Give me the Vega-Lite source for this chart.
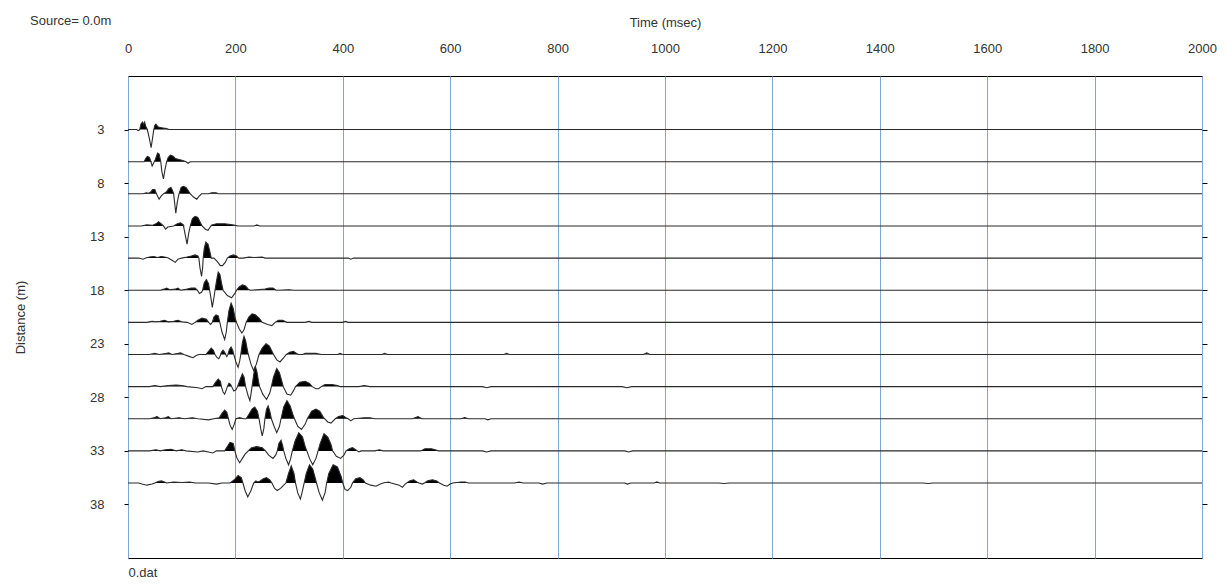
{
"$schema":"https://vega.github.io/schema/vega-lite/v6.json",
"width":1074,"height":482,
"autosize":{"type":"none"},
"padding":{"left":128,"top":76,"right":25,"bottom":28},
"background":"white",
"config":{"font":"Liberation Sans","view":{"stroke":"#000","strokeWidth":1},"axis":{"labelFont":"Liberation Sans","titleFont":"Liberation Sans","labelColor":"#333","titleColor":"#333","labelFontSize":13,"titleFontSize":13,"titleFontWeight":"normal","tickColor":"#000"}},
"title":{"text":"Source=  0.0m","anchor":"start","frame":"group","dx":-98,"dy":16,"fontSize":13,"fontWeight":"normal","color":"#333","font":"Liberation Sans"},
"data":{"values":[
{"d":3,"t":0,"y":3},{"d":3,"t":16,"y":3},{"d":3,"t":19,"y":3.1},{"d":3,"t":22,"y":3},{"d":3,"t":24,"y":2.5},{"d":3,"t":27,"y":2.3},{"d":3,"t":29,"y":2.5},{"d":3,"t":31,"y":2.3},{"d":3,"t":33,"y":2.7},{"d":3,"t":36,"y":3},{"d":3,"t":40,"y":3.9},{"d":3,"t":43,"y":4.7},{"d":3,"t":46,"y":3.7},{"d":3,"t":48,"y":3},{"d":3,"t":50,"y":2.6},{"d":3,"t":52,"y":2.5},{"d":3,"t":55,"y":2.7},{"d":3,"t":58,"y":2.8},{"d":3,"t":65,"y":2.85},{"d":3,"t":72,"y":2.9},{"d":3,"t":76,"y":3},{"d":3,"t":2000,"y":3},
{"d":6,"t":0,"y":6},{"d":6,"t":30,"y":6},{"d":6,"t":33,"y":5.7},{"d":6,"t":36,"y":5.5},{"d":6,"t":40,"y":5.6},{"d":6,"t":42,"y":5.9},{"d":6,"t":45,"y":6.4},{"d":6,"t":48,"y":6.1},{"d":6,"t":51,"y":5.8},{"d":6,"t":55,"y":5.2},{"d":6,"t":58,"y":5.3},{"d":6,"t":61,"y":6},{"d":6,"t":63,"y":6.9},{"d":6,"t":66,"y":7.6},{"d":6,"t":69,"y":6.7},{"d":6,"t":72,"y":6},{"d":6,"t":75,"y":5.6},{"d":6,"t":79,"y":5.4},{"d":6,"t":84,"y":5.5},{"d":6,"t":88,"y":5.7},{"d":6,"t":95,"y":5.8},{"d":6,"t":102,"y":5.9},{"d":6,"t":108,"y":6},{"d":6,"t":112,"y":6.15},{"d":6,"t":116,"y":6},{"d":6,"t":2000,"y":6},
{"d":9,"t":0,"y":9},{"d":9,"t":28,"y":9},{"d":9,"t":34,"y":8.9},{"d":9,"t":38,"y":8.95},{"d":9,"t":42,"y":8.85},{"d":9,"t":46,"y":8.6},{"d":9,"t":50,"y":8.6},{"d":9,"t":53,"y":9},{"d":9,"t":58,"y":9.5},{"d":9,"t":62,"y":9.2},{"d":9,"t":66,"y":9},{"d":9,"t":72,"y":8.8},{"d":9,"t":76,"y":8.5},{"d":9,"t":80,"y":8.4},{"d":9,"t":83,"y":8.7},{"d":9,"t":85,"y":9},{"d":9,"t":87,"y":9.9},{"d":9,"t":89,"y":10.8},{"d":9,"t":92,"y":9.7},{"d":9,"t":95,"y":9},{"d":9,"t":99,"y":8.4},{"d":9,"t":103,"y":8.3},{"d":9,"t":108,"y":8.4},{"d":9,"t":112,"y":8.7},{"d":9,"t":116,"y":9},{"d":9,"t":122,"y":9.3},{"d":9,"t":128,"y":9.5},{"d":9,"t":133,"y":9.2},{"d":9,"t":137,"y":9},{"d":9,"t":150,"y":9},{"d":9,"t":156,"y":8.9},{"d":9,"t":164,"y":8.9},{"d":9,"t":168,"y":9},{"d":9,"t":2000,"y":9},
{"d":12,"t":0,"y":12},{"d":12,"t":25,"y":12},{"d":12,"t":35,"y":11.9},{"d":12,"t":45,"y":11.95},{"d":12,"t":52,"y":11.8},{"d":12,"t":57,"y":11.6},{"d":12,"t":62,"y":11.8},{"d":12,"t":66,"y":12},{"d":12,"t":70,"y":12.3},{"d":12,"t":74,"y":12.1},{"d":12,"t":85,"y":12},{"d":12,"t":92,"y":11.8},{"d":12,"t":98,"y":11.7},{"d":12,"t":103,"y":11.9},{"d":12,"t":106,"y":12.7},{"d":12,"t":110,"y":13.7},{"d":12,"t":113,"y":12.7},{"d":12,"t":116,"y":12},{"d":12,"t":120,"y":11.3},{"d":12,"t":125,"y":11.1},{"d":12,"t":130,"y":11.2},{"d":12,"t":134,"y":11.6},{"d":12,"t":138,"y":12},{"d":12,"t":144,"y":12.3},{"d":12,"t":149,"y":12.4},{"d":12,"t":153,"y":12.1},{"d":12,"t":156,"y":11.9},{"d":12,"t":165,"y":11.8},{"d":12,"t":180,"y":11.8},{"d":12,"t":195,"y":11.9},{"d":12,"t":205,"y":12},{"d":12,"t":235,"y":12},{"d":12,"t":240,"y":11.9},{"d":12,"t":245,"y":12},{"d":12,"t":2000,"y":12},
{"d":15,"t":0,"y":15},{"d":15,"t":20,"y":15},{"d":15,"t":28,"y":15.1},{"d":15,"t":33,"y":15},{"d":15,"t":40,"y":14.9},{"d":15,"t":48,"y":14.85},{"d":15,"t":55,"y":14.95},{"d":15,"t":62,"y":14.85},{"d":15,"t":68,"y":14.9},{"d":15,"t":75,"y":15},{"d":15,"t":82,"y":15.2},{"d":15,"t":88,"y":15.4},{"d":15,"t":93,"y":15.1},{"d":15,"t":100,"y":15},{"d":15,"t":110,"y":14.9},{"d":15,"t":118,"y":14.8},{"d":15,"t":125,"y":14.7},{"d":15,"t":130,"y":14.8},{"d":15,"t":132,"y":15},{"d":15,"t":134,"y":15.9},{"d":15,"t":137,"y":16.7},{"d":15,"t":139,"y":15.9},{"d":15,"t":140,"y":15},{"d":15,"t":142,"y":14.1},{"d":15,"t":145,"y":13.5},{"d":15,"t":149,"y":13.7},{"d":15,"t":152,"y":14.3},{"d":15,"t":155,"y":15},{"d":15,"t":160,"y":15},{"d":15,"t":166,"y":15.3},{"d":15,"t":172,"y":15.7},{"d":15,"t":176,"y":15.7},{"d":15,"t":181,"y":15.4},{"d":15,"t":185,"y":15},{"d":15,"t":190,"y":14.8},{"d":15,"t":196,"y":14.7},{"d":15,"t":202,"y":14.8},{"d":15,"t":206,"y":15},{"d":15,"t":215,"y":15},{"d":15,"t":225,"y":14.9},{"d":15,"t":235,"y":14.95},{"d":15,"t":250,"y":14.9},{"d":15,"t":255,"y":15},{"d":15,"t":410,"y":15},{"d":15,"t":415,"y":15.1},{"d":15,"t":420,"y":15},{"d":15,"t":2000,"y":15},
{"d":18,"t":0,"y":18},{"d":18,"t":60,"y":18},{"d":18,"t":67,"y":17.9},{"d":18,"t":72,"y":17.8},{"d":18,"t":78,"y":17.95},{"d":18,"t":88,"y":17.9},{"d":18,"t":93,"y":17.8},{"d":18,"t":98,"y":18},{"d":18,"t":110,"y":17.9},{"d":18,"t":118,"y":17.8},{"d":18,"t":125,"y":17.8},{"d":18,"t":129,"y":18},{"d":18,"t":133,"y":18.3},{"d":18,"t":137,"y":18.2},{"d":18,"t":139,"y":18},{"d":18,"t":142,"y":17.3},{"d":18,"t":146,"y":17},{"d":18,"t":150,"y":17.4},{"d":18,"t":152,"y":18},{"d":18,"t":155,"y":18.9},{"d":18,"t":157,"y":19.6},{"d":18,"t":160,"y":18.7},{"d":18,"t":162,"y":18},{"d":18,"t":165,"y":17.1},{"d":18,"t":168,"y":16.3},{"d":18,"t":171,"y":16.5},{"d":18,"t":174,"y":17.3},{"d":18,"t":177,"y":18},{"d":18,"t":185,"y":18.5},{"d":18,"t":193,"y":18.7},{"d":18,"t":199,"y":18.3},{"d":18,"t":202,"y":18},{"d":18,"t":207,"y":17.7},{"d":18,"t":213,"y":17.5},{"d":18,"t":219,"y":17.6},{"d":18,"t":224,"y":17.9},{"d":18,"t":228,"y":18},{"d":18,"t":255,"y":17.9},{"d":18,"t":263,"y":17.8},{"d":18,"t":270,"y":17.8},{"d":18,"t":276,"y":18},{"d":18,"t":300,"y":17.95},{"d":18,"t":310,"y":18},{"d":18,"t":2000,"y":18},
{"d":21,"t":0,"y":21},{"d":21,"t":35,"y":21},{"d":21,"t":45,"y":20.9},{"d":21,"t":52,"y":20.95},{"d":21,"t":60,"y":20.9},{"d":21,"t":68,"y":20.8},{"d":21,"t":75,"y":20.95},{"d":21,"t":85,"y":20.9},{"d":21,"t":93,"y":20.8},{"d":21,"t":100,"y":20.95},{"d":21,"t":110,"y":21},{"d":21,"t":119,"y":21.2},{"d":21,"t":125,"y":21},{"d":21,"t":130,"y":20.8},{"d":21,"t":138,"y":20.6},{"d":21,"t":146,"y":20.7},{"d":21,"t":150,"y":21},{"d":21,"t":154,"y":21.2},{"d":21,"t":157,"y":21},{"d":21,"t":160,"y":20.5},{"d":21,"t":164,"y":20.3},{"d":21,"t":168,"y":20.4},{"d":21,"t":171,"y":21},{"d":21,"t":175,"y":21.9},{"d":21,"t":180,"y":22.6},{"d":21,"t":183,"y":21.9},{"d":21,"t":185,"y":21},{"d":21,"t":188,"y":19.9},{"d":21,"t":192,"y":19.2},{"d":21,"t":196,"y":19.7},{"d":21,"t":199,"y":20.5},{"d":21,"t":202,"y":21},{"d":21,"t":207,"y":21.6},{"d":21,"t":212,"y":22},{"d":21,"t":216,"y":21.7},{"d":21,"t":220,"y":21},{"d":21,"t":225,"y":20.5},{"d":21,"t":231,"y":20.2},{"d":21,"t":237,"y":20.3},{"d":21,"t":244,"y":20.6},{"d":21,"t":250,"y":21},{"d":21,"t":260,"y":21.2},{"d":21,"t":268,"y":21.3},{"d":21,"t":274,"y":21},{"d":21,"t":280,"y":20.8},{"d":21,"t":288,"y":20.8},{"d":21,"t":296,"y":21},{"d":21,"t":330,"y":21},{"d":21,"t":337,"y":20.9},{"d":21,"t":342,"y":21},{"d":21,"t":400,"y":21},{"d":21,"t":405,"y":20.9},{"d":21,"t":410,"y":21},{"d":21,"t":2000,"y":21},
{"d":24,"t":0,"y":24},{"d":24,"t":40,"y":24},{"d":24,"t":50,"y":23.9},{"d":24,"t":58,"y":24},{"d":24,"t":70,"y":23.9},{"d":24,"t":76,"y":23.85},{"d":24,"t":82,"y":24},{"d":24,"t":92,"y":23.9},{"d":24,"t":98,"y":23.85},{"d":24,"t":104,"y":24},{"d":24,"t":115,"y":24.2},{"d":24,"t":121,"y":24.3},{"d":24,"t":127,"y":24.1},{"d":24,"t":132,"y":24},{"d":24,"t":145,"y":24},{"d":24,"t":150,"y":23.7},{"d":24,"t":155,"y":23.4},{"d":24,"t":159,"y":23.6},{"d":24,"t":162,"y":24},{"d":24,"t":166,"y":24.3},{"d":24,"t":169,"y":24.4},{"d":24,"t":172,"y":24.1},{"d":24,"t":174,"y":23.8},{"d":24,"t":177,"y":23.6},{"d":24,"t":180,"y":23.8},{"d":24,"t":182,"y":24},{"d":24,"t":184,"y":24.2},{"d":24,"t":186,"y":24},{"d":24,"t":189,"y":23.5},{"d":24,"t":192,"y":23.3},{"d":24,"t":195,"y":23.6},{"d":24,"t":197,"y":24},{"d":24,"t":201,"y":24.7},{"d":24,"t":205,"y":25.2},{"d":24,"t":208,"y":24.6},{"d":24,"t":210,"y":24},{"d":24,"t":213,"y":22.9},{"d":24,"t":216,"y":22.3},{"d":24,"t":219,"y":22.7},{"d":24,"t":222,"y":23.5},{"d":24,"t":224,"y":24},{"d":24,"t":229,"y":24.9},{"d":24,"t":234,"y":25.5},{"d":24,"t":239,"y":24.9},{"d":24,"t":244,"y":24},{"d":24,"t":250,"y":23.4},{"d":24,"t":257,"y":23},{"d":24,"t":263,"y":23.2},{"d":24,"t":268,"y":23.7},{"d":24,"t":271,"y":24},{"d":24,"t":277,"y":24.5},{"d":24,"t":283,"y":24.7},{"d":24,"t":290,"y":24.3},{"d":24,"t":295,"y":24},{"d":24,"t":301,"y":23.8},{"d":24,"t":308,"y":23.7},{"d":24,"t":314,"y":23.9},{"d":24,"t":317,"y":24},{"d":24,"t":325,"y":24},{"d":24,"t":330,"y":23.9},{"d":24,"t":340,"y":23.9},{"d":24,"t":350,"y":23.9},{"d":24,"t":360,"y":24},{"d":24,"t":390,"y":24},{"d":24,"t":395,"y":23.9},{"d":24,"t":400,"y":24},{"d":24,"t":473,"y":24},{"d":24,"t":478,"y":23.9},{"d":24,"t":483,"y":24},{"d":24,"t":700,"y":24},{"d":24,"t":705,"y":23.9},{"d":24,"t":710,"y":24},{"d":24,"t":960,"y":24},{"d":24,"t":966,"y":23.85},{"d":24,"t":972,"y":24},{"d":24,"t":2000,"y":24},
{"d":27,"t":0,"y":27},{"d":27,"t":40,"y":27},{"d":27,"t":50,"y":26.9},{"d":27,"t":60,"y":27},{"d":27,"t":75,"y":26.9},{"d":27,"t":90,"y":26.85},{"d":27,"t":100,"y":26.9},{"d":27,"t":110,"y":27},{"d":27,"t":130,"y":27.1},{"d":27,"t":138,"y":27.2},{"d":27,"t":145,"y":27},{"d":27,"t":158,"y":27},{"d":27,"t":163,"y":26.6},{"d":27,"t":168,"y":26.3},{"d":27,"t":172,"y":26.5},{"d":27,"t":174,"y":27},{"d":27,"t":177,"y":27.5},{"d":27,"t":180,"y":27.7},{"d":27,"t":183,"y":27.3},{"d":27,"t":185,"y":27},{"d":27,"t":188,"y":26.7},{"d":27,"t":191,"y":26.8},{"d":27,"t":193,"y":27},{"d":27,"t":197,"y":27.4},{"d":27,"t":201,"y":27.3},{"d":27,"t":204,"y":27},{"d":27,"t":209,"y":26.3},{"d":27,"t":213,"y":25.8},{"d":27,"t":216,"y":26.1},{"d":27,"t":219,"y":27},{"d":27,"t":224,"y":27.9},{"d":27,"t":227,"y":28.3},{"d":27,"t":229,"y":27.7},{"d":27,"t":231,"y":27},{"d":27,"t":234,"y":25.9},{"d":27,"t":237,"y":25.1},{"d":27,"t":240,"y":25.6},{"d":27,"t":243,"y":26.5},{"d":27,"t":245,"y":27},{"d":27,"t":251,"y":27.7},{"d":27,"t":258,"y":28.2},{"d":27,"t":264,"y":27.6},{"d":27,"t":267,"y":27},{"d":27,"t":271,"y":26.1},{"d":27,"t":277,"y":25.3},{"d":27,"t":282,"y":25.7},{"d":27,"t":287,"y":26.6},{"d":27,"t":289,"y":27},{"d":27,"t":296,"y":27.7},{"d":27,"t":303,"y":27.8},{"d":27,"t":308,"y":27.4},{"d":27,"t":312,"y":27},{"d":27,"t":320,"y":26.6},{"d":27,"t":330,"y":26.5},{"d":27,"t":338,"y":26.7},{"d":27,"t":343,"y":27},{"d":27,"t":350,"y":27.2},{"d":27,"t":355,"y":27.2},{"d":27,"t":360,"y":27},{"d":27,"t":367,"y":26.8},{"d":27,"t":380,"y":26.8},{"d":27,"t":390,"y":26.9},{"d":27,"t":395,"y":27},{"d":27,"t":430,"y":27},{"d":27,"t":440,"y":26.9},{"d":27,"t":450,"y":27},{"d":27,"t":660,"y":27},{"d":27,"t":668,"y":27.1},{"d":27,"t":676,"y":27},{"d":27,"t":920,"y":27},{"d":27,"t":929,"y":27.1},{"d":27,"t":938,"y":27},{"d":27,"t":2000,"y":27},
{"d":30,"t":0,"y":30},{"d":30,"t":40,"y":30},{"d":30,"t":48,"y":29.9},{"d":30,"t":54,"y":29.8},{"d":30,"t":60,"y":30},{"d":30,"t":70,"y":29.9},{"d":30,"t":75,"y":29.8},{"d":30,"t":80,"y":30},{"d":30,"t":95,"y":29.9},{"d":30,"t":105,"y":30},{"d":30,"t":120,"y":29.9},{"d":30,"t":130,"y":30},{"d":30,"t":150,"y":30.1},{"d":30,"t":160,"y":30},{"d":30,"t":170,"y":29.9},{"d":30,"t":175,"y":29.5},{"d":30,"t":180,"y":29.2},{"d":30,"t":184,"y":29.4},{"d":30,"t":187,"y":30},{"d":30,"t":190,"y":30.6},{"d":30,"t":194,"y":31},{"d":30,"t":198,"y":30.5},{"d":30,"t":201,"y":30},{"d":30,"t":208,"y":29.9},{"d":30,"t":215,"y":30},{"d":30,"t":220,"y":30},{"d":30,"t":225,"y":29.6},{"d":30,"t":231,"y":29.1},{"d":30,"t":236,"y":28.9},{"d":30,"t":241,"y":29.3},{"d":30,"t":244,"y":30},{"d":30,"t":247,"y":30.9},{"d":30,"t":250,"y":31.6},{"d":30,"t":253,"y":30.9},{"d":30,"t":255,"y":30},{"d":30,"t":258,"y":29.1},{"d":30,"t":261,"y":28.8},{"d":30,"t":264,"y":29.3},{"d":30,"t":267,"y":30},{"d":30,"t":272,"y":30.7},{"d":30,"t":277,"y":31.3},{"d":30,"t":282,"y":30.7},{"d":30,"t":285,"y":30},{"d":30,"t":290,"y":28.9},{"d":30,"t":296,"y":28.3},{"d":30,"t":302,"y":28.8},{"d":30,"t":307,"y":29.6},{"d":30,"t":310,"y":30},{"d":30,"t":316,"y":30.7},{"d":30,"t":323,"y":31},{"d":30,"t":330,"y":30.5},{"d":30,"t":334,"y":30},{"d":30,"t":342,"y":29.3},{"d":30,"t":350,"y":29.1},{"d":30,"t":357,"y":29.3},{"d":30,"t":363,"y":29.8},{"d":30,"t":366,"y":30},{"d":30,"t":372,"y":30.3},{"d":30,"t":378,"y":30.4},{"d":30,"t":384,"y":30.1},{"d":30,"t":386,"y":30},{"d":30,"t":392,"y":29.8},{"d":30,"t":400,"y":29.7},{"d":30,"t":406,"y":29.9},{"d":30,"t":410,"y":30},{"d":30,"t":415,"y":30.2},{"d":30,"t":420,"y":30},{"d":30,"t":440,"y":29.9},{"d":30,"t":450,"y":29.9},{"d":30,"t":460,"y":30},{"d":30,"t":530,"y":30},{"d":30,"t":540,"y":29.8},{"d":30,"t":547,"y":30},{"d":30,"t":620,"y":30},{"d":30,"t":627,"y":29.9},{"d":30,"t":634,"y":30},{"d":30,"t":665,"y":30},{"d":30,"t":670,"y":30.1},{"d":30,"t":676,"y":30},{"d":30,"t":2000,"y":30},
{"d":33,"t":0,"y":33},{"d":33,"t":40,"y":33},{"d":33,"t":52,"y":32.9},{"d":33,"t":60,"y":33},{"d":33,"t":70,"y":32.9},{"d":33,"t":80,"y":32.85},{"d":33,"t":90,"y":33},{"d":33,"t":100,"y":32.9},{"d":33,"t":108,"y":33},{"d":33,"t":130,"y":33.1},{"d":33,"t":140,"y":33},{"d":33,"t":150,"y":33.1},{"d":33,"t":158,"y":33.2},{"d":33,"t":165,"y":33},{"d":33,"t":180,"y":33},{"d":33,"t":185,"y":32.6},{"d":33,"t":190,"y":32.2},{"d":33,"t":196,"y":32.3},{"d":33,"t":199,"y":33},{"d":33,"t":203,"y":33.7},{"d":33,"t":208,"y":34.1},{"d":33,"t":213,"y":33.7},{"d":33,"t":218,"y":33.3},{"d":33,"t":224,"y":33},{"d":33,"t":230,"y":32.7},{"d":33,"t":240,"y":32.6},{"d":33,"t":250,"y":32.7},{"d":33,"t":256,"y":33},{"d":33,"t":262,"y":33.4},{"d":33,"t":270,"y":33.7},{"d":33,"t":275,"y":33.4},{"d":33,"t":278,"y":33},{"d":33,"t":281,"y":32.3},{"d":33,"t":285,"y":32},{"d":33,"t":288,"y":32.5},{"d":33,"t":290,"y":33},{"d":33,"t":294,"y":33.7},{"d":33,"t":299,"y":34.3},{"d":33,"t":303,"y":33.7},{"d":33,"t":306,"y":33},{"d":33,"t":311,"y":32.1},{"d":33,"t":318,"y":31.3},{"d":33,"t":325,"y":31.7},{"d":33,"t":330,"y":32.6},{"d":33,"t":333,"y":33},{"d":33,"t":338,"y":33.7},{"d":33,"t":344,"y":34.3},{"d":33,"t":350,"y":33.7},{"d":33,"t":354,"y":33},{"d":33,"t":358,"y":32.3},{"d":33,"t":365,"y":31.4},{"d":33,"t":372,"y":31.7},{"d":33,"t":378,"y":32.4},{"d":33,"t":381,"y":33},{"d":33,"t":388,"y":33.5},{"d":33,"t":396,"y":33.7},{"d":33,"t":402,"y":33.4},{"d":33,"t":406,"y":33},{"d":33,"t":412,"y":32.8},{"d":33,"t":418,"y":32.7},{"d":33,"t":424,"y":32.9},{"d":33,"t":427,"y":33},{"d":33,"t":430,"y":33.1},{"d":33,"t":434,"y":33},{"d":33,"t":460,"y":33},{"d":33,"t":468,"y":32.9},{"d":33,"t":475,"y":33},{"d":33,"t":545,"y":33},{"d":33,"t":553,"y":32.8},{"d":33,"t":565,"y":32.8},{"d":33,"t":572,"y":32.9},{"d":33,"t":578,"y":33},{"d":33,"t":660,"y":33},{"d":33,"t":668,"y":33.1},{"d":33,"t":676,"y":33},{"d":33,"t":925,"y":33},{"d":33,"t":932,"y":33.1},{"d":33,"t":940,"y":33},{"d":33,"t":2000,"y":33},
{"d":36,"t":0,"y":36},{"d":36,"t":20,"y":36},{"d":36,"t":26,"y":36.1},{"d":36,"t":35,"y":36.2},{"d":36,"t":45,"y":36.1},{"d":36,"t":50,"y":36},{"d":36,"t":56,"y":35.85},{"d":36,"t":62,"y":35.8},{"d":36,"t":68,"y":35.9},{"d":36,"t":72,"y":36},{"d":36,"t":85,"y":35.9},{"d":36,"t":100,"y":35.95},{"d":36,"t":115,"y":35.9},{"d":36,"t":125,"y":36},{"d":36,"t":150,"y":36},{"d":36,"t":165,"y":36.1},{"d":36,"t":175,"y":36},{"d":36,"t":190,"y":36},{"d":36,"t":198,"y":35.7},{"d":36,"t":205,"y":35.3},{"d":36,"t":211,"y":35.5},{"d":36,"t":214,"y":36},{"d":36,"t":218,"y":36.7},{"d":36,"t":223,"y":37.3},{"d":36,"t":229,"y":36.7},{"d":36,"t":234,"y":36},{"d":36,"t":238,"y":35.8},{"d":36,"t":242,"y":35.9},{"d":36,"t":246,"y":35.8},{"d":36,"t":252,"y":35.6},{"d":36,"t":258,"y":35.5},{"d":36,"t":264,"y":35.7},{"d":36,"t":268,"y":36},{"d":36,"t":273,"y":36.5},{"d":36,"t":278,"y":36.7},{"d":36,"t":284,"y":36.5},{"d":36,"t":290,"y":36.2},{"d":36,"t":294,"y":36},{"d":36,"t":299,"y":35.1},{"d":36,"t":304,"y":34.4},{"d":36,"t":309,"y":35.1},{"d":36,"t":312,"y":36},{"d":36,"t":316,"y":36.9},{"d":36,"t":321,"y":37.5},{"d":36,"t":325,"y":36.7},{"d":36,"t":328,"y":36},{"d":36,"t":332,"y":35.1},{"d":36,"t":338,"y":34.3},{"d":36,"t":344,"y":34.7},{"d":36,"t":349,"y":35.6},{"d":36,"t":351,"y":36},{"d":36,"t":356,"y":36.9},{"d":36,"t":362,"y":37.6},{"d":36,"t":367,"y":36.9},{"d":36,"t":370,"y":36},{"d":36,"t":374,"y":35.1},{"d":36,"t":382,"y":34.3},{"d":36,"t":390,"y":34.5},{"d":36,"t":397,"y":35.4},{"d":36,"t":400,"y":36},{"d":36,"t":404,"y":36.6},{"d":36,"t":409,"y":36.7},{"d":36,"t":415,"y":36.4},{"d":36,"t":418,"y":36},{"d":36,"t":424,"y":35.6},{"d":36,"t":432,"y":35.5},{"d":36,"t":438,"y":35.7},{"d":36,"t":442,"y":36},{"d":36,"t":452,"y":36.2},{"d":36,"t":462,"y":36.3},{"d":36,"t":470,"y":36.1},{"d":36,"t":475,"y":36},{"d":36,"t":485,"y":35.9},{"d":36,"t":490,"y":36},{"d":36,"t":505,"y":36.2},{"d":36,"t":511,"y":36.4},{"d":36,"t":516,"y":36.1},{"d":36,"t":519,"y":36},{"d":36,"t":525,"y":35.8},{"d":36,"t":532,"y":35.7},{"d":36,"t":538,"y":35.9},{"d":36,"t":542,"y":36},{"d":36,"t":548,"y":36.1},{"d":36,"t":552,"y":36},{"d":36,"t":558,"y":35.8},{"d":36,"t":567,"y":35.7},{"d":36,"t":575,"y":35.8},{"d":36,"t":580,"y":36},{"d":36,"t":588,"y":36.2},{"d":36,"t":594,"y":36.3},{"d":36,"t":600,"y":36.1},{"d":36,"t":605,"y":36},{"d":36,"t":620,"y":35.9},{"d":36,"t":628,"y":35.9},{"d":36,"t":634,"y":36},{"d":36,"t":720,"y":36},{"d":36,"t":728,"y":35.9},{"d":36,"t":736,"y":36},{"d":36,"t":765,"y":36},{"d":36,"t":772,"y":36.1},{"d":36,"t":780,"y":36},{"d":36,"t":925,"y":36},{"d":36,"t":930,"y":36.1},{"d":36,"t":936,"y":36},{"d":36,"t":980,"y":36},{"d":36,"t":985,"y":35.9},{"d":36,"t":990,"y":36},{"d":36,"t":1100,"y":36},{"d":36,"t":1110,"y":36.05},{"d":36,"t":1120,"y":36},{"d":36,"t":1480,"y":36},{"d":36,"t":1490,"y":36.05},{"d":36,"t":1500,"y":36},{"d":36,"t":2000,"y":36}
]},
"layer":[
{"transform":[{"fold":["y","d"],"as":["k","v"]},{"aggregate":[{"op":"min","field":"v","as":"f"}],"groupby":["d","t"]}],
 "mark":{"type":"area","color":"#000","interpolate":"linear"},
 "encoding":{
  "x":{"field":"t","type":"quantitative","scale":{"domain":[0,2000],"nice":false,"zero":false},"axis":{"orient":"bottom","labels":false,"ticks":false,"domain":false,"grid":false,"title":"0.dat","titleAnchor":"start","titleAlign":"left","titleFontSize":13,"titlePadding":8}},
  "y":{"field":"f","type":"quantitative","scale":{"domain":[-2,43],"nice":false,"zero":false,"reverse":true},"axis":{"orient":"right","values":[3,8,13,18,23,28,33,38],"labels":false,"ticks":true,"tickSize":5,"domain":false,"grid":false,"title":null}},
  "y2":{"field":"d"},
  "detail":{"field":"d","type":"nominal"}}},
{"mark":{"type":"line","color":"#2a2a2a","strokeWidth":1.1,"interpolate":"linear"},
 "encoding":{
  "x":{"field":"t","type":"quantitative","scale":{"domain":[0,2000],"nice":false,"zero":false},"axis":{"orient":"top","values":[0,200,400,600,800,1000,1200,1400,1600,1800,2000],"format":"d","title":"Time (msec)","grid":true,"gridColor":"#7fa8d8","gridWidth":1,"gridOpacity":1,"domain":false,"ticks":false,"labelFlush":false,"labelPadding":21,"titlePadding":13}},
  "y":{"field":"y","type":"quantitative","scale":{"domain":[-2,43],"nice":false,"zero":false,"reverse":true},"axis":{"orient":"left","values":[3,8,13,18,23,28,33,38],"title":"Distance (m)","grid":false,"domain":false,"ticks":true,"tickSize":4,"labelPadding":20,"titlePadding":62}},
  "detail":{"field":"d","type":"nominal"}}}
],
"resolve":{"axis":{"x":"independent","y":"independent"}}
}
